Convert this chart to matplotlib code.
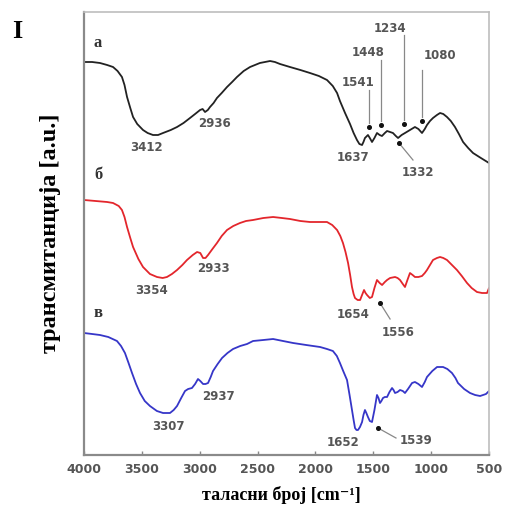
import matplotlib
matplotlib.use("Agg")
import matplotlib.pyplot as plt

# ---- data (wavenumber cm^-1, transmittance a.u.) ----
wn_a = [4000, 3930, 3862, 3800, 3749, 3710, 3672, 3650, 3628, 3600, 3576, 3540, 3490, 3450,
        3404, 3360, 3317, 3250, 3196, 3140, 3084, 3040, 2997, 2975, 2954, 2930, 2911, 2880,
        2851, 2810, 2764, 2720, 2678, 2620, 2565, 2480, 2392, 2350, 2306, 2220, 2130, 2047,
        1970, 1900, 1850, 1813, 1788, 1744, 1701, 1670, 1641, 1620, 1597, 1585, 1572, 1546,
        1530, 1511, 1490, 1468, 1445, 1425, 1400, 1381, 1355, 1330, 1305, 1286, 1255, 1226,
        1183, 1140, 1110, 1079, 1055, 1036, 1010, 984, 950, 923, 895, 863, 830, 794, 760,
        724, 680, 638, 570, 500]
t_a = [393, 393, 392, 390, 388, 384, 378, 370, 358, 347, 338, 331, 325, 322,
       320, 320, 322, 325, 328, 332, 337, 341, 345, 346, 343, 345, 348, 352,
       357, 362, 368, 373, 378, 384, 388, 392, 394, 393, 391, 388, 385, 382,
       379, 375, 369, 362, 354, 342, 331, 322, 315, 311, 310, 313, 317, 320,
       317, 313, 317, 322, 320, 319, 322, 324, 323, 322, 319, 317, 320, 322,
       325, 328, 326, 322, 326, 330, 334, 337, 340, 342, 341, 338, 334, 328, 321,
       313, 307, 302, 297, 292]

wn_b = [4000, 3900, 3800, 3749, 3700, 3672, 3650, 3628, 3600, 3576, 3530, 3490, 3430, 3369,
        3320, 3283, 3240, 3196, 3150, 3110, 3060, 3023, 2995, 2971, 2950, 2928, 2890, 2851,
        2810, 2764, 2710, 2652, 2600, 2539, 2450, 2366, 2290, 2220, 2130, 2047, 1960, 1900,
        1855, 1813, 1785, 1762, 1740, 1718, 1700, 1684, 1670, 1658, 1635, 1614, 1597, 1580,
        1567, 1554, 1530, 1511, 1490, 1468, 1445, 1424, 1400, 1381, 1355, 1312, 1290, 1269,
        1245, 1226, 1205, 1183, 1160, 1140, 1110, 1079, 1055, 1036, 1010, 984, 950, 923,
        895, 863, 820, 777, 735, 690, 650, 604, 560, 517, 500]
t_b = [255, 254, 253, 252, 249, 245, 238, 228, 217, 208, 196, 188, 181, 178,
       177, 178, 181, 185, 190, 195, 200, 203, 202, 197, 197, 200, 206, 212,
       219, 225, 229, 232, 234, 235, 237, 238, 237, 236, 234, 233, 233, 233,
       230, 225, 219, 212, 203, 192, 180, 168, 161, 157, 155, 155, 160, 165,
       162, 160, 157, 158, 167, 175, 172, 170, 173, 175, 177, 178, 177, 175,
       171, 168, 175, 182, 180, 178, 178, 179, 182, 185, 190, 195, 197, 198,
       197, 195, 190, 185, 179, 172, 167, 163, 162, 162, 167]

wn_c = [4000, 3930, 3862, 3790, 3715, 3680, 3646, 3615, 3585, 3550, 3516, 3475, 3430, 3370,
        3317, 3257, 3225, 3196, 3160, 3127, 3100, 3067, 3040, 3015, 2995, 2971, 2950, 2928,
        2905, 2885, 2845, 2807, 2760, 2712, 2650, 2591, 2539, 2450, 2366, 2280, 2193, 2080,
        1960, 1900, 1849, 1815, 1788, 1760, 1727, 1705, 1684, 1670, 1658, 1645, 1632, 1615,
        1597, 1585, 1572, 1560, 1546, 1530, 1511, 1490, 1468, 1455, 1442, 1430, 1416, 1400,
        1381, 1360, 1338, 1325, 1312, 1290, 1269, 1245, 1226, 1200, 1165, 1140, 1110, 1079,
        1055, 1036, 990, 949, 897, 860, 820, 790, 768, 715, 664, 620, 577, 526, 500]
t_c = [122, 121, 120, 118, 114, 109, 102, 92, 82, 71, 62, 54, 49, 44,
       42, 42, 45, 49, 57, 64, 66, 67, 71, 76, 74, 71, 71, 72,
       78, 84, 91, 97, 102, 106, 109, 111, 114, 115, 116, 114, 112, 110,
       108, 106, 104, 99, 92, 84, 75, 60, 45, 35, 27, 25, 25, 28,
       33, 40, 45, 42, 38, 34, 33, 45, 60, 57, 52, 54, 57, 58,
       58, 63, 67, 65, 62, 63, 65, 64, 62, 66, 72, 73, 71, 68,
       73, 78, 84, 88, 88, 86, 82, 77, 72, 66, 62, 60, 59, 61, 64]

series_names = ["a", "б", "в"]
series_colors = ["#222222", "#e3262c", "#3636c8"]

# peak labels: text, x, y
plain_labels = [("3412", 3456, 308), ("2936", 2868, 332), ("1637", 1675, 298),
                ("3354", 3412, 164), ("2933", 2885, 186), ("1654", 1675, 141),
                ("3307", 3274, 29), ("2937", 2842, 59), ("1652", 1762, 12)]
# vertical pointer labels on curve a: text, dot x, dot y, line top y, label x, label y
vert_labels = [("1541", 1537, 328, 365, 1632, 373),
               ("1448", 1433, 330, 395, 1546, 403),
               ("1234", 1235, 331, 420, 1356, 427),
               ("1080", 1079, 334, 385, 923, 400)]
# slanted pointer labels: text, dot x, dot y, line end x, line end y, label x, label y
slant_labels = [("1332", 1278, 312, 1157, 295, 1114, 283),
                ("1556", 1442, 152, 1355, 136, 1286, 123),
                ("1539", 1459, 27, 1304, 17, 1131, 14)]

x_ticks = [4000, 3500, 3000, 2500, 2000, 1500, 1000, 500]

fig = plt.figure(figsize=(5.06, 5.13), dpi=100)
ax = fig.add_axes([84 / 506, 1 - 455 / 513, (489 - 84) / 506, (455 - 12) / 513])

for wn, t, c in zip([wn_a, wn_b, wn_c], [t_a, t_b, t_c], series_colors):
    ax.plot(wn, t, color=c, lw=1.3, solid_joinstyle="round", solid_capstyle="round")

ax.set_xlim(4000, 500)
ax.set_ylim(0, 443)
ax.set_xticks(x_ticks)
ax.set_xticklabels([str(v) for v in x_ticks])
ax.set_yticks([])
ax.tick_params(axis="x", direction="in", length=3, width=1, color="#888888",
               labelsize=9, labelcolor="#555555", pad=6)
for lab in ax.get_xticklabels():
    lab.set_fontweight("bold")

for side in ["left", "bottom"]:
    ax.spines[side].set_color("#8a8a8a")
    ax.spines[side].set_linewidth(1.6)
for side in ["top", "right"]:
    ax.spines[side].set_color("#bdbdbd")
    ax.spines[side].set_linewidth(1.2)

lab_kw = dict(fontsize=8.5, color="#555555", fontweight="bold", ha="center", va="center")
for txt, x, y in plain_labels:
    ax.text(x, y, txt, **lab_kw)

for txt, dx, dy, top, lx, ly in vert_labels:
    ax.plot([dx, dx], [dy + 4, top], color="#888888", lw=0.9)
    ax.plot([dx], [dy], "o", color="#111111", ms=2.6)
    ax.text(lx, ly, txt, **lab_kw)

for txt, dx, dy, ex, ey, lx, ly in slant_labels:
    ax.plot([dx, ex], [dy, ey], color="#888888", lw=0.9)
    ax.plot([dx], [dy], "o", color="#111111", ms=2.6)
    ax.text(lx, ly, txt, **lab_kw)

serif = ["Liberation Serif", "DejaVu Serif"]
for name, y in zip(series_names, [412, 280, 142]):
    ax.text(3879, y, name, fontsize=12, fontweight="bold", family=serif,
            color="#333333", ha="center", va="center")

fig.text(51 / 506, 1 - 233 / 513, "трансмитанција [a.u.]", rotation=90,
         fontsize=17.5, fontweight="bold", family=serif, ha="center", va="center")
fig.text(281 / 506, 1 - 495 / 513, "таласни број [cm⁻¹]",
         fontsize=13, fontweight="bold", family=serif, ha="center", va="center")
fig.text(17 / 506, 1 - 32 / 513, "I", fontsize=19, fontweight="bold", family=serif,
         ha="center", va="center")

fig.savefig("out.png", dpi=100)
